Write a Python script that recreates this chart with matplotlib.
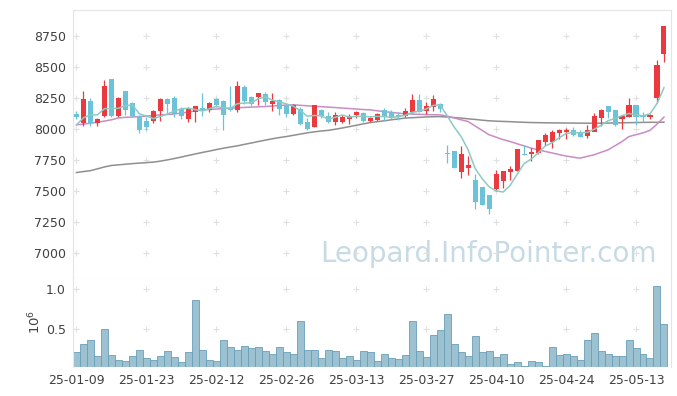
import numpy as np
import matplotlib
matplotlib.use("Agg")
import matplotlib.pyplot as plt

# daily candles, 85 trading days from 25-01-09
opens = [8123, 8048, 8227, 8048, 8107, 8405, 8107, 8308, 8212, 8107,
         8066, 8066, 8147, 8244, 8250, 8160, 8083, 8142, 8169, 8158,
         8244, 8228, 8169, 8155, 8335, 8255, 8260, 8285, 8201, 8231,
         8190, 8121, 8164, 8056, 8021, 8150, 8107, 8061, 8061, 8083,
         8115, 8129, 8069, 8077, 8155, 8134, 8113, 8107, 8142, 8236,
         8147, 8182, 8204, 7808, 7825, 7658, 7686, 7591, 7529, 7470,
         7516, 7586, 7658, 7664, 7801, 7801, 7807, 7900, 7900, 7968,
         7976, 7994, 7968, 7946, 7981, 8089, 8188, 8150, 8081, 8101,
         8196, 8115, 8097, 8250, 8605]
highs = [8150, 8309, 8247, 8089, 8397, 8405, 8255, 8308, 8215, 8110,
         8098, 8155, 8252, 8252, 8270, 8175, 8180, 8188, 8290, 8220,
         8250, 8236, 8345, 8389, 8357, 8265, 8287, 8300, 8290, 8240,
         8195, 8205, 8180, 8090, 8190, 8160, 8140, 8140, 8115, 8125,
         8145, 8140, 8100, 8130, 8168, 8155, 8139, 8168, 8284, 8284,
         8220, 8276, 8210, 7868, 7825, 7860, 7785, 7640, 7529, 7470,
         7672, 7664, 7699, 7839, 7873, 7850, 7914, 7970, 7990, 8000,
         8010, 8020, 7994, 8034, 8130, 8160, 8188, 8150, 8107, 8250,
         8196, 8140, 8125, 8558, 8833]
lows = [8081, 8029, 8027, 8029, 8101, 8100, 8101, 8110, 8101, 7970,
        7994, 8050, 8066, 8130, 8095, 8080, 8055, 8055, 8105, 8135,
        8175, 7994, 8150, 8142, 8206, 8190, 8197, 8197, 8150, 8115,
        8100, 8110, 8035, 7990, 8021, 8090, 8050, 8035, 8050, 8040,
        8090, 8060, 8060, 8062, 8062, 8085, 8077, 8094, 8127, 8142,
        8125, 8150, 8140, 7726, 7686, 7606, 7630, 7355, 7390, 7317,
        7500, 7527, 7586, 7664, 7790, 7740, 7800, 7870, 7850, 7920,
        7920, 7946, 7935, 7930, 7981, 8025, 8090, 8028, 8000, 8095,
        8035, 8060, 8085, 8210, 8545]
closes = [8101, 8244, 8048, 8083, 8349, 8107, 8252, 8155, 8107, 7994,
          8018, 8147, 8244, 8203, 8120, 8105, 8169, 8188, 8152, 8206,
          8196, 8118, 8157, 8349, 8230, 8204, 8287, 8222, 8227, 8161,
          8121, 8196, 8040, 8002, 8190, 8107, 8061, 8115, 8097, 8107,
          8134, 8069, 8086, 8118, 8101, 8094, 8101, 8145, 8236, 8142,
          8188, 8244, 8164, 7800, 7686, 7801, 7712, 7416, 7390, 7355,
          7640, 7664, 7678, 7839, 7790, 7817, 7914, 7954, 7973, 7989,
          7994, 7954, 7941, 7994, 8107, 8155, 8142, 8032, 8107, 8196,
          8101, 8101, 8115, 8518, 8833]
prev_closes = [7964, 7928, 8083, 8099]  # last closes before the window

ma20 = [8035, 8040, 8048, 8055, 8065, 8075, 8090, 8095, 8098, 8101,
        8105, 8110, 8115, 8118, 8122, 8129, 8138, 8147, 8155, 8158,
        8162, 8165, 8169, 8172, 8175, 8177, 8180, 8182, 8186, 8190,
        8194, 8196, 8192, 8188, 8184, 8181, 8177, 8174, 8170, 8166,
        8162, 8158, 8155, 8148, 8141, 8135, 8129, 8123, 8121, 8119,
        8117, 8116, 8115, 8105, 8090, 8075, 8061, 8025, 7990, 7954,
        7935, 7915, 7900, 7882, 7865, 7847, 7833, 7820, 7808, 7795,
        7783, 7774, 7766, 7780, 7793, 7813, 7833, 7866, 7900, 7940,
        7955, 7970, 7990, 8040, 8097]
ma60 = [7650, 7658, 7665, 7680, 7695, 7707, 7712, 7717, 7722, 7726,
        7730, 7734, 7742, 7752, 7763, 7775, 7788, 7800, 7812, 7823,
        7835, 7846, 7856, 7865, 7877, 7888, 7900, 7911, 7922, 7932,
        7940, 7950, 7960, 7970, 7978, 7985, 7990, 7999, 8009, 8020,
        8031, 8042, 8053, 8060, 8067, 8075, 8082, 8089, 8092, 8095,
        8098, 8100, 8101, 8097, 8093, 8089, 8083, 8078, 8072, 8067,
        8064, 8062, 8060, 8057, 8055, 8053, 8052, 8051, 8050, 8050,
        8049, 8049, 8048, 8048, 8048, 8048, 8049, 8050, 8051, 8052,
        8053, 8054, 8055, 8055, 8056]

volume = [0.21, 0.31, 0.37, 0.17, 0.50, 0.18, 0.12, 0.10, 0.17, 0.24,
          0.14, 0.12, 0.17, 0.23, 0.15, 0.09, 0.21, 0.86, 0.24, 0.12,
          0.10, 0.37, 0.28, 0.24, 0.29, 0.26, 0.28, 0.23, 0.19, 0.28,
          0.21, 0.19, 0.60, 0.24, 0.24, 0.14, 0.24, 0.23, 0.14, 0.17,
          0.11, 0.23, 0.22, 0.10, 0.19, 0.14, 0.13, 0.18, 0.60, 0.23,
          0.15, 0.43, 0.49, 0.69, 0.32, 0.22, 0.17, 0.42, 0.22, 0.23,
          0.15, 0.19, 0.06, 0.09, 0.04, 0.10, 0.09, 0.04, 0.28, 0.18,
          0.19, 0.17, 0.11, 0.36, 0.45, 0.23, 0.19, 0.17, 0.17, 0.37,
          0.27, 0.19, 0.14, 1.03, 0.56]

tick_pos = [0, 10, 20, 30, 40, 50, 60, 70, 80]
tick_labels = ["25-01-09", "25-01-23", "25-02-12", "25-02-26", "25-03-13",
               "25-03-27", "25-04-10", "25-04-24", "25-05-13"]
price_ticks = [7000, 7250, 7500, 7750, 8000, 8250, 8500, 8750]
vol_ticks = [0.5, 1.0]

UP = "#ea3a3f"
DOWN = "#6cc2d9"
GRID = "#e0e0e0"
SPINE = "#e4e4e4"
TXT = "#404040"

n = len(closes)
x = np.arange(n)
o, h, l, c = map(np.array, (opens, highs, lows, closes))
allc = np.array(prev_closes + closes, dtype=float)
ma5 = np.convolve(allc, np.ones(5) / 5, mode="valid")

fig = plt.figure(figsize=(6.77, 3.96), dpi=100)
ax = fig.add_axes([0.1078, 0.298, 0.8833, 0.6767])
axv = fig.add_axes([0.1078, 0.0725, 0.8833, 0.2255], sharex=ax)

# candles
up = c >= o
cols = np.where(up, UP, DOWN)
ax.vlines(x, l, h, colors=cols, lw=0.9, zorder=3)
ax.bar(x, np.abs(c - o) + 2, bottom=np.minimum(o, c) - 1, width=0.72,
       color=cols, lw=0, zorder=4)

ax.plot(x, ma60, color="#8f8f8f", lw=1.1, zorder=2)
ax.plot(x, ma20, color="#c98cc4", lw=1.1, zorder=2)
ax.plot(x, ma5, color="#8ccbc2", lw=1.1, zorder=5)

ax.text(0.977, 0.06, "Leopard.InfoPointer.com", transform=ax.transAxes,
        ha="right", va="baseline", fontsize=20, color="#c7dbe5", zorder=0)

ax.set_ylim(6800, 8960)
ax.set_xlim(-0.5, 85)
ax.set_yticks(price_ticks)
gx, gy = np.meshgrid(tick_pos, price_ticks)
ax.plot(gx.ravel(), gy.ravel(), ls="none", marker="+", ms=5, mew=0.8,
        color=GRID, zorder=1)

# volume
axv.bar(x, volume, width=1.0, color="#9cc2d2", edgecolor="#6a9fb7", lw=0.6)
axv.set_ylim(0.025, 1.135)
axv.set_yticks(vol_ticks)
axv.set_yticklabels(["0.5", "1.0"])
gx, gy = np.meshgrid(tick_pos, vol_ticks)
axv.plot(gx.ravel(), gy.ravel(), ls="none", marker="+", ms=5, mew=0.8,
         color=GRID, zorder=0)
axv.set_xticks(tick_pos)
axv.set_xticklabels(tick_labels)
fig.text(35 / 677, 1 - 322 / 396, "10$^6$", rotation=90, ha="center",
         va="center", fontsize=9.5, color=TXT)

for a in (ax, axv):
    for s in a.spines.values():
        s.set_color(SPINE)
    a.tick_params(length=0, labelsize=9, colors=TXT, pad=5)
axv.spines["bottom"].set_visible(False)
axv.spines["top"].set_visible(False)
ax.tick_params(axis="x", labelbottom=False)

fig.savefig("out.png", dpi=100)
